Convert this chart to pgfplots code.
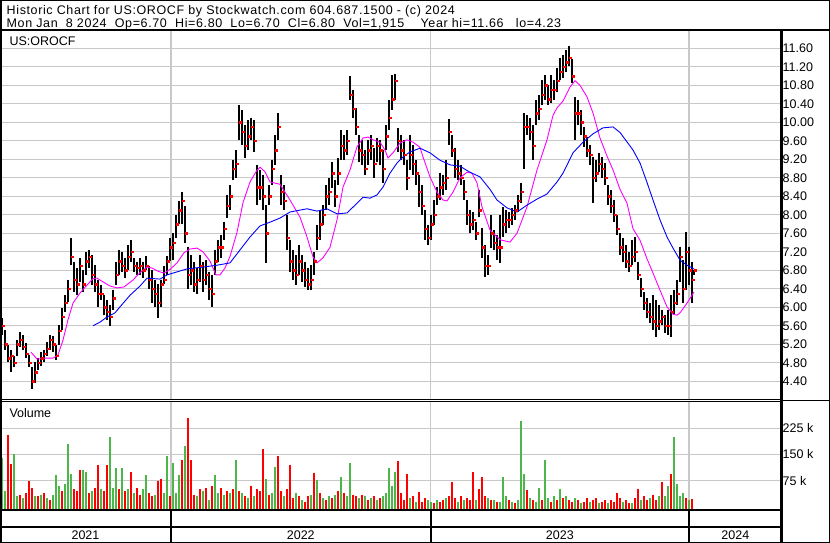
\documentclass[border=0pt]{standalone}
\usepackage{pgfplots}
\usepackage{pgfplotstable}
\pgfplotsset{compat=1.18}
\usepackage{fontspec}
\setmainfont{Liberation Sans}
\newfontfamily\hdr{Liberation Sans}[LetterSpace=5]
\definecolor{gridgray}{RGB}{200,200,200}
\definecolor{mag}{RGB}{255,0,255}
\definecolor{bl}{RGB}{0,0,255}
\definecolor{vred}{RGB}{255,0,0}
\definecolor{vgreen}{RGB}{76,182,72}
\newcommand{\lab}{\fontsize{12.5}{14}\selectfont}

\pgfplotstableread{
x lo hi cl
2 5.40 5.77 5.60
5 5.08 5.51 5.20
8 4.82 5.19 4.90
11 4.60 5.08 4.95
14 4.70 4.95 4.80
17 4.95 5.29 5.20
20 5.15 5.47 5.30
23 5.08 5.40 5.15
26 4.90 5.22 5.00
29 4.70 4.97 4.80
32 4.23 4.70 4.40
35 4.36 4.82 4.60
38 4.65 4.90 4.80
41 4.73 5.03 4.90
44 4.82 5.08 5.00
47 4.95 5.25 5.10
50 5.08 5.40 5.30
53 5.04 5.38 5.20
56 4.86 5.19 4.95
59 5.19 5.62 5.50
62 5.51 5.98 5.80
65 5.90 6.27 6.10
68 6.12 6.59 6.40
71 6.92 7.50 7.10
74 6.33 6.98 6.60
77 6.27 6.85 6.50
80 6.55 7.06 6.90
83 6.33 6.81 6.50
86 6.70 7.20 7.00
89 6.85 7.24 7.10
92 6.48 7.13 6.70
95 6.33 6.92 6.50
98 6.01 6.59 6.30
101 6.16 6.48 6.30
104 5.83 6.27 6.00
107 5.73 6.16 5.90
110 5.60 6.05 5.80
113 5.94 6.38 6.20
116 6.48 6.98 6.70
119 6.70 7.24 7.00
122 6.77 7.20 6.90
125 6.63 7.06 6.80
128 6.81 7.35 7.10
131 6.98 7.46 7.20
134 6.77 7.06 6.90
137 6.70 6.98 6.85
140 6.70 7.06 6.90
143 6.63 6.98 6.80
146 6.81 7.10 6.90
149 6.40 6.90 6.60
152 6.10 6.80 6.40
155 6.00 6.60 6.30
158 5.77 6.50 6.10
161 6.00 6.60 6.50
164 6.50 6.90 6.60
167 6.70 7.10 7.00
170 7.00 7.50 7.30
173 7.02 7.60 7.40
176 7.50 8.00 7.80
179 7.80 8.30 8.10
182 7.80 8.50 8.30
185 7.40 8.20 7.60
188 6.40 7.30 6.70
191 6.48 7.13 6.80
194 6.33 6.98 6.50
197 6.29 6.85 6.60
200 6.55 7.13 6.90
203 6.33 6.98 6.60
206 6.48 7.02 6.70
209 6.16 6.77 6.40
212 6.01 6.70 6.30
215 6.70 7.24 7.00
218 6.98 7.46 7.30
221 7.06 7.56 7.30
224 7.46 7.85 7.70
227 7.93 8.43 8.20
230 8.10 8.64 8.40
233 8.75 9.19 9.00
236 8.80 9.40 9.10
239 9.62 10.37 10.00
242 9.51 10.27 9.80
245 9.23 9.94 9.50
248 9.40 10.05 9.70
251 9.62 10.10 9.90
254 9.36 10.05 9.60
257 8.21 9.08 8.60
260 8.32 8.97 8.60
263 8.10 8.86 8.40
266 6.96 8.21 7.60
269 8.21 8.64 8.40
272 8.64 9.19 9.00
275 9.08 9.73 9.40
278 9.62 10.20 9.90
281 8.21 8.86 8.50
284 8.10 8.64 8.30
287 7.24 8.00 7.50
290 6.77 7.46 7.00
293 6.59 7.24 6.80
296 6.48 7.13 6.70
299 6.70 7.35 7.00
302 6.55 7.13 6.80
305 6.44 6.98 6.60
308 6.38 6.85 6.50
311 6.38 6.92 6.60
314 6.70 7.20 7.00
317 7.24 7.78 7.50
320 7.46 8.10 7.80
323 7.78 8.21 8.00
326 8.10 8.64 8.40
329 8.21 8.80 8.50
332 8.58 9.14 8.90
335 8.17 8.75 8.40
338 8.64 9.23 8.90
341 9.19 9.83 9.50
344 9.19 9.73 9.40
347 9.29 9.83 9.60
350 10.48 11.00 10.60
353 10.10 10.70 10.30
356 9.73 10.31 9.90
359 9.14 9.73 9.40
362 9.08 9.62 9.30
365 8.86 9.40 9.00
368 9.08 9.62 9.40
371 9.19 9.73 9.50
374 8.80 9.45 9.10
377 9.14 9.67 9.50
380 9.08 9.62 9.40
383 8.68 9.40 9.00
386 9.40 9.94 9.70
389 9.83 10.48 10.10
392 10.27 11.02 10.50
395 10.48 11.04 10.90
398 9.36 9.87 9.60
401 9.19 9.73 9.40
404 9.08 9.62 9.30
407 8.54 9.19 8.80
410 8.97 9.73 9.30
413 8.86 9.51 9.10
416 8.64 9.19 8.90
419 8.17 8.86 8.50
422 8.00 8.64 8.20
425 7.46 8.10 7.70
428 7.35 7.78 7.50
431 7.46 8.00 7.80
434 7.78 8.32 8.00
437 8.21 8.60 8.40
440 8.32 8.91 8.60
443 8.43 8.86 8.70
446 8.54 9.19 8.80
449 9.51 10.07 9.80
452 9.25 9.73 9.40
455 8.80 9.45 9.00
458 8.75 9.19 8.90
461 8.64 9.08 8.80
464 8.32 8.75 8.50
467 7.78 8.32 8.00
470 7.60 8.10 7.80
473 7.67 8.06 7.90
476 7.46 7.85 7.60
479 7.96 8.54 8.10
482 7.06 7.71 7.30
485 6.65 7.35 6.90
488 6.70 7.13 6.90
491 7.29 8.00 7.60
494 7.24 7.67 7.40
497 7.02 7.56 7.30
500 6.96 8.00 7.30
503 7.52 8.17 7.80
506 7.60 8.10 7.90
509 7.71 8.06 7.90
512 7.78 8.15 8.00
515 7.89 8.21 8.10
518 8.06 8.43 8.30
521 8.25 8.69 8.50
524 9.00 10.20 9.90
527 9.73 10.16 9.90
530 9.62 10.10 9.80
533 9.19 9.94 9.50
536 9.94 10.48 10.20
539 10.05 10.59 10.30
542 10.37 10.91 10.60
545 10.48 11.02 10.80
548 10.37 10.81 10.50
551 10.42 11.02 10.70
554 10.48 10.91 10.70
557 10.66 11.17 10.90
560 10.91 11.39 11.10
563 10.96 11.46 11.20
566 11.09 11.56 11.30
569 11.22 11.66 11.40
572 10.85 11.37 11.00
575 9.62 10.55 10.20
578 9.94 10.48 10.20
581 9.73 10.27 10.00
584 9.47 9.90 9.70
587 9.25 9.69 9.40
590 9.08 9.51 9.30
593 8.25 9.25 8.80
596 8.71 9.19 8.90
599 8.93 9.34 9.10
602 8.80 9.25 9.00
605 8.64 9.12 8.80
608 8.21 8.64 8.40
611 8.03 8.54 8.20
614 7.85 8.32 8.00
617 7.56 8.00 7.70
620 7.13 7.60 7.30
623 6.98 7.49 7.20
626 6.85 7.35 7.00
629 6.77 7.20 6.90
632 6.92 7.46 7.10
635 6.98 7.52 7.20
638 6.59 6.98 6.70
641 6.22 6.63 6.40
644 5.94 6.33 6.10
647 5.77 6.20 5.90
650 5.66 6.09 5.80
653 5.51 6.27 5.70
656 5.36 6.16 5.60
659 5.51 6.05 5.70
662 5.62 5.94 5.80
665 5.44 5.83 5.60
668 5.40 5.94 5.60
671 5.36 6.27 5.90
674 5.83 6.38 6.10
677 6.05 6.59 6.30
680 6.55 7.31 7.10
683 6.09 7.02 6.40
686 6.38 7.63 7.20
689 6.48 7.31 6.80
692 6.09 6.98 6.60
694 6.70 6.80 6.80
}\price

\pgfplotstableread{
x p
31 5.03
37 4.88
45 4.90
53 4.90
58 4.97
63 5.29
68 5.73
73 6.09
80 6.31
87 6.48
93 6.62
97 6.63
103 6.55
110 6.46
117 6.42
124 6.44
133 6.59
140 6.75
147 6.87
152 6.85
158 6.78
164 6.74
170 6.82
177 6.96
184 7.18
190 7.26
197 7.28
203 7.20
210 7.00
216 6.70
220 6.70
225 6.85
230 7.10
237 7.62
243 8.26
250 8.71
256 8.93
260 9.03
265 8.93
270 8.71
280 8.66
290 8.32
300 7.95
307 7.52
313 7.09
317 6.96
323 7.07
330 7.30
337 7.89
343 8.60
350 8.97
357 9.47
363 9.66
368 9.68
373 9.62
380 9.57
385 9.40
388 9.23
393 9.34
400 9.55
407 9.62
413 9.57
420 9.46
423 9.25
430 8.82
437 8.49
443 8.32
447 8.30
453 8.49
460 8.80
467 8.92
472 8.90
477 8.69
482 8.17
490 7.67
500 7.46
510 7.41
517 7.60
527 8.17
537 8.97
547 9.62
553 10.15
557 10.31
563 10.46
570 10.76
575 10.90
580 10.80
587 10.55
593 10.20
600 9.66
607 9.27
613 8.97
620 8.55
627 8.25
633 7.70
640 7.45
647 7.05
653 6.74
660 6.37
667 6.01
673 5.85
677 5.83
680 5.88
687 6.09
694 6.33
}\mashort

\pgfplotstableread{
x p
93 5.60
100 5.68
107 5.79
115 5.88
120 6.01
130 6.26
140 6.46
147 6.63
160 6.61
167 6.70
173 6.74
187 6.83
203 6.87
217 6.91
230 6.96
240 7.24
250 7.52
260 7.76
270 7.84
280 7.93
290 8.06
307 8.13
317 8.08
327 8.13
337 8.02
347 8.04
357 8.25
363 8.38
370 8.36
377 8.43
383 8.60
390 8.90
397 9.12
403 9.25
410 9.36
420 9.44
430 9.34
440 9.18
450 9.08
460 9.05
470 8.92
480 8.82
490 8.55
497 8.32
507 8.15
517 8.06
527 8.21
537 8.34
547 8.45
557 8.71
563 8.90
573 9.34
583 9.57
593 9.75
603 9.88
613 9.90
620 9.78
633 9.40
640 9.12
647 8.70
653 8.32
660 7.89
667 7.52
673 7.28
680 7.02
687 6.91
694 6.83
}\malong

\pgfplotstableread{
x v
8 206
11 124
20 35
26 40
29 75
32 55
38 30
44 40
50 20
62 45
74 50
77 45
80 105
89 40
95 55
98 120
104 45
107 120
119 50
125 45
131 100
137 55
140 35
149 40
152 30
158 75
161 80
170 30
182 135
188 255
191 133
194 35
200 50
206 55
212 60
221 55
227 45
233 50
239 45
245 30
251 60
257 50
260 45
263 165
269 35
278 145
281 45
287 50
290 120
293 25
299 30
305 15
308 30
314 98
320 40
326 20
332 25
338 45
344 40
353 35
356 30
362 35
368 20
374 30
380 25
398 130
401 40
404 20
407 95
413 30
419 42
422 15
425 25
434 12
440 15
443 20
449 30
452 70
455 25
461 30
467 25
470 20
473 100
479 50
482 85
485 30
491 20
497 15
509 20
515 12
527 48
533 20
542 20
551 15
557 20
563 25
569 20
572 15
578 20
584 15
587 25
593 20
596 25
602 15
605 20
611 20
614 15
617 40
620 25
626 20
629 12
635 25
638 52
644 30
647 20
653 35
656 20
662 70
671 95
686 25
692 22
}\volred

\pgfplotstableread{
x v
2 140
5 45
14 151
17 30
23 25
35 30
41 35
47 25
53 35
56 90
59 60
65 65
68 180
71 95
83 105
86 100
92 45
101 50
110 200
113 55
116 110
122 110
128 50
134 40
143 50
146 90
155 35
164 40
167 145
173 125
176 40
179 90
185 175
197 30
203 45
209 20
215 90
218 40
224 35
230 40
236 135
242 40
248 25
254 30
266 80
272 40
275 115
284 30
296 40
302 20
311 35
317 78
323 25
329 30
335 35
341 85
347 30
350 125
359 25
365 30
371 25
377 20
383 30
386 40
389 110
392 60
395 100
410 25
416 15
428 20
431 15
437 20
446 25
458 15
464 20
476 20
488 25
494 20
500 15
503 87
506 30
512 15
518 20
521 247
524 95
530 25
536 15
539 55
545 135
548 25
554 30
560 52
566 30
575 25
581 12
590 15
599 12
608 12
623 15
632 10
641 20
650 25
659 30
665 30
668 60
674 200
677 65
680 30
683 40
689 20
}\volgreen

\begin{document}
\begin{tikzpicture}
\useasboundingbox (0,0) rectangle (830pt,543pt);
\fill[white] (0,0) rectangle (830pt,543pt);

% price panel
\begin{axis}[
  at={(2pt,143pt)}, anchor=south west, scale only axis,
  width=778pt, height=369pt,
  xmin=2, xmax=780, ymin=3.996, ymax=11.974,
  axis line style={draw=none},
  xtick={171,430.7,689}, xticklabels={},
  ytick={4.4,4.8,5.2,5.6,6.0,6.4,6.8,7.2,7.6,8.0,8.4,8.8,9.2,9.6,10.0,10.4,10.8,11.2,11.6},
  yticklabels={4.40,4.80,5.20,5.60,6.00,6.40,6.80,7.20,7.60,8.00,8.40,8.80,9.20,9.60,10.00,10.40,10.80,11.20,11.60},
  yticklabel pos=right,
  major tick length=0pt,
  xmajorgrids, ymajorgrids,
  grid style={draw=gridgray, line width=1.1pt},
  yticklabel style={font=\lab, anchor=west, xshift=2.5pt, inner sep=0pt},
  clip=true,
]
\addplot[draw=none, mark=none, forget plot,
  error bars/.cd, y dir=minus, y explicit, error mark=none,
  error bar style={draw=black, line width=2.4pt}]
  table[x=x, y=hi, y error expr=\thisrow{hi}-\thisrow{lo}] {\price};
\addplot[only marks, mark=square*, mark size=0.7pt, color=vred,
  mark options={draw=none, fill=vred, xshift=1.2pt}]
  table[x=x, y=cl] {\price};
\addplot[mag, line width=0.9pt] table[x=x, y=p] {\mashort};
\addplot[bl, line width=0.9pt] table[x=x, y=p] {\malong};
\end{axis}

% volume panel
\begin{axis}[
  at={(2pt,33pt)}, anchor=south west, scale only axis,
  width=778pt, height=108pt,
  xmin=2, xmax=780, ymin=-8.9, ymax=300.3,
  axis line style={draw=none},
  xtick={171,430.7,689}, xticklabels={},
  ytick={75,150,225},
  yticklabels={75 k,150 k,225 k},
  yticklabel pos=right,
  major tick length=0pt,
  xmajorgrids, ymajorgrids,
  grid style={draw=gridgray, line width=1.1pt},
  yticklabel style={font=\lab, anchor=west, xshift=2.5pt, inner sep=0pt},
  clip=true,
]
\addplot[draw=none, mark=none, forget plot,
  error bars/.cd, y dir=minus, y explicit, error mark=none,
  error bar style={draw=vred, line width=2.5pt}]
  table[x=x, y=v, y error expr=\thisrow{v}+8.9] {\volred};
\addplot[draw=none, mark=none, forget plot,
  error bars/.cd, y dir=minus, y explicit, error mark=none,
  error bar style={draw=vgreen, line width=2.5pt}]
  table[x=x, y=v, y error expr=\thisrow{v}+8.9] {\volgreen};
\end{axis}

% frame lines
\draw[line width=1pt] (0.5pt,0.5pt) rectangle (829.5pt,542.5pt);
\draw[line width=2.5pt] (1.2pt,0) -- (1.2pt,543pt);
\draw[line width=2pt] (0,512.5pt) -- (830pt,512.5pt);
\draw[line width=3pt] (781.7pt,0) -- (781.7pt,512.5pt);
\draw[line width=1pt] (0,143pt) -- (781pt,143pt);
\draw[line width=1pt] (0,141pt) -- (781pt,141pt);
\draw[line width=1pt] (781pt,142pt) -- (830pt,142pt);
\draw[line width=2pt] (0,33pt) -- (781pt,33pt);
\draw[line width=2pt] (0,15.5pt) -- (781pt,15.5pt);
\foreach \xx in {171,430.7,689} \draw[line width=1.6pt] (\xx pt,0) -- (\xx pt,33pt);

% texts
\node[anchor=base west, inner sep=0pt, font=\hdr\lab] at (6.5pt,528pt)
  {Historic Chart for US:OROCF by Stockwatch.com 604.687.1500 - (c) 2024};
\node[anchor=base west, inner sep=0pt, font=\hdr\lab] at (6.5pt,515.5pt)
  {Mon Jan\ \ 8 2024\ \ Op=6.70\ \ Hi=6.80\ \ Lo=6.70\ \ Cl=6.80\ \ Vol=1,915\ \ \ \ Year hi=11.66\ \ \ lo=4.23};
\node[anchor=base west, inner sep=0pt, font=\lab] at (9.3pt,497pt) {US:OROCF};
\node[anchor=base west, inner sep=0pt, font=\lab] at (9.3pt,125pt) {Volume};
\node[anchor=base, inner sep=0pt, font=\lab] at (85.5pt,3.5pt) {2021};
\node[anchor=base, inner sep=0pt, font=\lab] at (300.8pt,3.5pt) {2022};
\node[anchor=base, inner sep=0pt, font=\lab] at (559.8pt,3.5pt) {2023};
\node[anchor=base, inner sep=0pt, font=\lab] at (735.3pt,3.5pt) {2024};
\end{tikzpicture}
\end{document}
